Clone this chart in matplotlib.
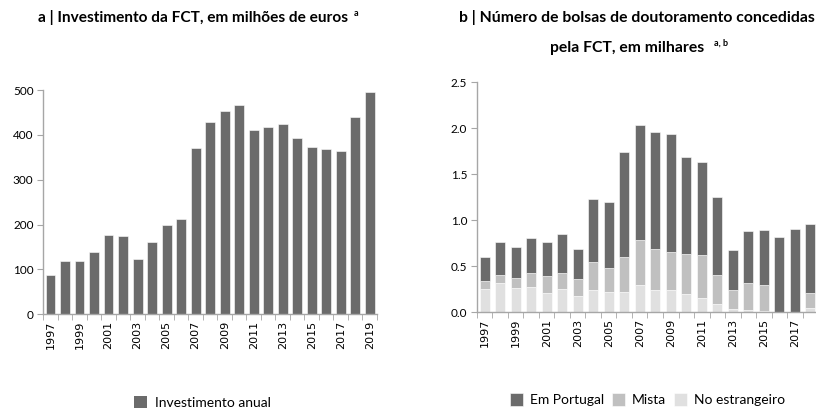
import numpy as np
import matplotlib.pyplot as plt
from matplotlib.patches import Patch

# ---------------------------------------------------------------------------
# Data
# ---------------------------------------------------------------------------
yearsA = list(range(1997, 2020))
investimento = [88, 119, 119, 138, 176, 175, 124, 160, 198, 213, 370, 428,
                453, 467, 411, 417, 425, 394, 373, 368, 365, 439, 497]

yearsB = list(range(1997, 2019))
estrangeiro = [0.25, 0.315, 0.26, 0.275, 0.21, 0.25, 0.18, 0.235, 0.22, 0.22,
               0.29, 0.235, 0.235, 0.20, 0.15, 0.09, 0.036, 0.025, 0.015,
               0.0, 0.0, 0.04]
mista = [0.09, 0.085, 0.11, 0.155, 0.18, 0.17, 0.18, 0.305, 0.26, 0.38,
         0.49, 0.45, 0.415, 0.43, 0.47, 0.31, 0.199, 0.29, 0.285,
         0.0, 0.0, 0.17]
total = [0.60, 0.76, 0.71, 0.80, 0.76, 0.85, 0.685, 1.23, 1.20, 1.74,
         2.03, 1.96, 1.93, 1.68, 1.63, 1.25, 0.68, 0.88, 0.89, 0.82,
         0.90, 0.96]
portugal = [t - e - m for t, e, m in zip(total, estrangeiro, mista)]

# ---------------------------------------------------------------------------
# Style
# ---------------------------------------------------------------------------
DARK, MID, LIGHT = '#6b6b6b', '#c0c0c0', '#e0e0e0'
AXC = '#a6a6a6'
plt.rcParams['font.family'] = ['Lato', 'DejaVu Sans']


def style_axis(ax, n):
    for s in ('top', 'right'):
        ax.spines[s].set_visible(False)
    for s in ('left', 'bottom'):
        ax.spines[s].set_color(AXC)
        ax.spines[s].set_linewidth(1.0)
    ax.set_xlim(-0.5, n - 0.5)
    ax.set_xticks(np.arange(n + 1) - 0.5, minor=True)
    ax.tick_params(axis='x', which='minor', length=4, color=AXC, direction='out')
    ax.tick_params(axis='x', which='major', length=0, pad=5)
    ax.tick_params(axis='y', length=4, color=AXC, direction='out',
                   labelsize=8.5, pad=3)


fig = plt.figure(figsize=(8.16, 4.08), dpi=100)

# ---- Chart a ----------------------------------------------------------------
axA = fig.add_axes([0.053, 0.230, 0.409, 0.549])
xA = np.arange(len(yearsA))
axA.bar(xA, investimento, width=0.68, color=DARK, edgecolor='white',
        linewidth=0.4)
style_axis(axA, len(yearsA))
axA.set_ylim(0, 500)
axA.set_yticks([0, 100, 200, 300, 400, 500])
axA.set_xticks(xA[::2])
axA.set_xticklabels([str(y) for y in yearsA[::2]], rotation=90,
                    fontsize=8, family='DejaVu Sans')
axA.legend(handles=[Patch(facecolor=DARK, label='Investimento anual')],
           loc='center', bbox_to_anchor=(0.477, -0.395), frameon=False,
           fontsize=10, handlelength=0.9, handleheight=1.1, handletextpad=0.6)

# ---- Chart b ----------------------------------------------------------------
axB = fig.add_axes([0.5845, 0.235, 0.418, 0.564])
xB = np.arange(len(yearsB))
w = 0.63
axB.bar(xB, estrangeiro, width=w, color=LIGHT, edgecolor='white',
        linewidth=0.4, label='No estrangeiro')
axB.bar(xB, mista, width=w, bottom=estrangeiro, color=MID,
        edgecolor='white', linewidth=0.4, label='Mista')
base = [e + m for e, m in zip(estrangeiro, mista)]
axB.bar(xB, portugal, width=w, bottom=base, color=DARK, edgecolor='white',
        linewidth=0.4, label='Em Portugal')
style_axis(axB, len(yearsB))
axB.set_ylim(0, 2.5)
axB.set_yticks([0, 0.5, 1.0, 1.5, 2.0, 2.5])
axB.set_yticklabels(['0.0', '0.5', '1.0', '1.5', '2.0', '2.5'])
axB.set_xticks(xB[::2])
axB.set_xticklabels([str(y) for y in yearsB[::2]], rotation=90,
                    fontsize=8, family='DejaVu Sans')
h, l = axB.get_legend_handles_labels()
axB.legend(h[::-1], l[::-1], loc='center', bbox_to_anchor=(0.50, -0.38),
           ncol=3, frameon=False, fontsize=10, handlelength=0.9,
           handleheight=1.1, handletextpad=0.5, columnspacing=0.6)

# ---- Titles -------------------------------------------------------------------
fig.text(0.236, 0.956, 'a | Investimento da FCT, em milhões de euros',
         ha='center', va='center', fontsize=11.1, fontweight='bold')
fig.text(0.436, 0.968, 'a', ha='center', va='center', fontsize=6.5,
         fontweight='bold')
fig.text(0.781, 0.956, 'b | Número de bolsas de doutoramento concedidas',
         ha='center', va='center', fontsize=11.3, fontweight='bold')
fig.text(0.768, 0.882, 'pela FCT, em milhares', ha='center', va='center',
         fontsize=11.3, fontweight='bold')
fig.text(0.884, 0.895, 'a, b', ha='center', va='center', fontsize=6.5,
         fontweight='bold')

fig.savefig('out.png', dpi=100)
